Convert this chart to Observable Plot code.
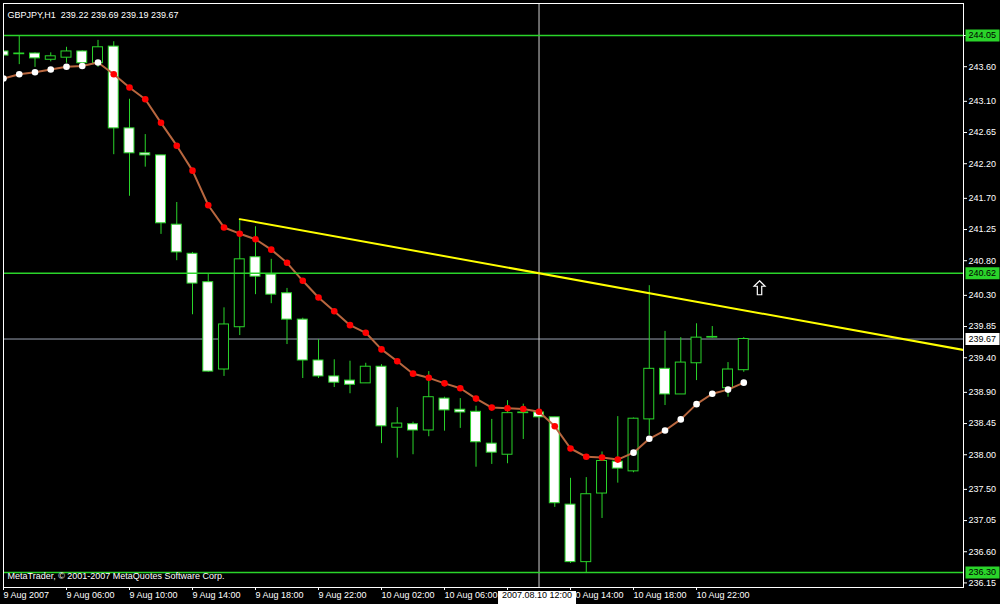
<!DOCTYPE html>
<html><head><meta charset="utf-8">
<script src="https://cdn.jsdelivr.net/npm/d3@7"></script>
<script src="https://cdn.jsdelivr.net/npm/@observablehq/plot@0.6"></script>
<style>html,body{margin:0;padding:0;background:#000;overflow:hidden}</style>
</head><body><div id="chart"></div>
<script>
// ---- data (GBPJPY, H1, 9-10 Aug 2007) ----
const symbolName = "GBPJPY,H1";
const opens  = [243.82,243.78,243.79,243.70,243.73,243.82,243.65,243.89,242.71,242.35,
                242.32,241.32,240.90,240.49,239.23,239.84,240.85,240.60,240.33,239.95,
                239.36,239.13,239.07,239.03,239.27,238.39,238.44,238.35,238.81,238.65,
                238.62,238.16,238.00,238.60,238.61,238.54,237.28,236.45,237.44,237.90,
                237.76,238.51,239.24,238.87,239.32,239.69,238.96,239.22];
const highs  = [243.82,244.05,243.80,243.80,243.88,243.83,243.98,243.96,243.13,242.62,
                242.32,241.64,240.92,240.60,240.12,241.40,241.29,240.82,240.40,239.97,
                239.66,239.37,239.35,239.32,239.30,238.68,238.47,239.20,238.83,238.81,
                238.70,238.51,238.78,238.73,238.64,238.54,237.66,237.67,238.04,238.55,
                238.53,240.44,239.78,239.69,239.89,239.85,239.33,239.69];
const lows   = [243.62,243.63,243.59,243.67,243.65,243.64,243.59,242.33,241.73,242.15,
                241.18,240.80,240.02,239.19,239.13,239.72,240.31,240.18,239.59,239.10,
                239.10,238.97,238.88,239.03,238.16,237.95,238.00,238.26,238.34,238.38,
                237.82,237.86,237.87,238.22,238.52,237.24,236.43,236.30,237.08,237.59,
                237.74,238.28,238.71,238.87,239.07,239.68,238.83,239.19];
const closes = [243.76,243.79,243.72,243.75,243.82,243.65,243.88,242.71,242.35,242.32,
                241.34,240.92,240.47,239.20,239.88,240.82,240.57,240.31,239.95,239.36,
                239.13,239.04,239.01,239.27,238.41,238.45,238.35,238.83,238.64,238.61,
                238.18,238.03,238.60,238.61,238.54,237.30,236.45,237.43,237.91,237.80,
                238.52,239.24,238.87,239.33,239.69,239.70,239.23,239.67];
const maValues = [243.43,243.49,243.52,243.56,243.60,243.61,243.66,243.49,243.30,243.13,
                  242.79,242.46,242.10,241.60,241.28,241.19,241.11,240.96,240.77,240.51,
                  240.27,240.07,239.87,239.76,239.52,239.35,239.17,239.11,239.03,238.96,
                  238.81,238.68,238.67,238.66,238.62,238.41,238.09,237.97,237.96,237.93,
                  238.03,238.23,238.35,238.51,238.73,238.88,238.94,239.04];
const timeTickIdx = [0,4,8,12,16,20,24,28,32,36,40,44];
// the 10 Aug 10:00 label is hidden under the vertical line's time label in the original
const timeTickLabels = ["9 Aug 2007","9 Aug 06:00","9 Aug 10:00","9 Aug 14:00","9 Aug 18:00",
  "9 Aug 22:00","10 Aug 02:00","10 Aug 06:00","","10 Aug 14:00","10 Aug 18:00","10 Aug 22:00"];
const priceTicks = [244.05,243.60,243.10,242.65,242.20,241.70,241.25,240.80,240.30,239.85,
                    239.40,238.90,238.45,238.00,237.50,237.05,236.60,236.15];
const hLines = [244.05, 240.62, 236.30];
const bidPrice = 239.67;
const crossIdx = 34;
const crossLabel = "2007.08.10 12:00";
const trendIdx = [15, 61];
const trendPrice = [241.40, 239.51];
const arrowIdx = [48];
const arrowPrice = [240.41];
const copyright = "MetaTrader, \u00a9 2001-2007 MetaQuotes Software Corp.";

// ---- derived tables ----
const candles = opens.map((o, i) => ({i, o, h: highs[i], l: lows[i], c: closes[i], bull: closes[i] >= o}));
const maPts = maValues.map((v, i) => ({i, v, up: i === 0 || v >= maValues[i - 1]}));
const trend = trendIdx.map((i, k) => ({i, p: trendPrice[k]}));
const arrows = arrowIdx.map((i, k) => ({i, p: arrowPrice[k]}));
const last = candles[candles.length - 1];
const header = `${symbolName}\u00a0\u00a0${last.o.toFixed(2)} ${last.h.toFixed(2)} ${last.l.toFixed(2)} ${last.c.toFixed(2)}`;

const GREEN = "#2ad42a";
const FONT = "'Liberation Sans', Arial, sans-serif";

const boxSym = (w, h) => ({draw(ctx) {
  ctx.moveTo(-w / 2, -h / 2); ctx.lineTo(w / 2, -h / 2); ctx.lineTo(w / 2, h / 2); ctx.lineTo(-w / 2, h / 2); ctx.closePath();
}});
const arrowSym = {draw(ctx) {
  ctx.moveTo(0, -7); ctx.lineTo(5.5, -1.5); ctx.lineTo(2.2, -1.5); ctx.lineTo(2.2, 7);
  ctx.lineTo(-2.2, 7); ctx.lineTo(-2.2, -1.5); ctx.lineTo(-5.5, -1.5); ctx.closePath();
}};

const chart = Plot.plot({
  width: 1000, height: 604,
  marginLeft: 3, marginRight: 37, marginTop: 3, marginBottom: 17,
  style: {background: "#000", color: "#fff", fontFamily: FONT, fontSize: "9px"},
  x: {type: "linear", domain: [0, 60.95]},
  y: {domain: [236.084, 244.512]},
  marks: [
    Plot.ruleY([bidPrice], {stroke: "#9aa3b3", strokeWidth: 1}),
    Plot.ruleX([crossIdx], {stroke: "#d0d0d0", strokeWidth: 1}),
    Plot.ruleX(candles, {x: "i", y1: "l", y2: "h", stroke: GREEN, strokeWidth: 1, clip: true}),
    Plot.rect(candles.filter(d => !d.bull), {x1: d => d.i - 0.5, x2: d => d.i + 0.5, y1: "o", y2: "c",
      insetLeft: 2.9, insetRight: 2.9, fill: "#fff", stroke: GREEN, strokeWidth: 1, clip: true}),
    Plot.rect(candles.filter(d => d.bull), {x1: d => d.i - 0.5, x2: d => d.i + 0.5, y1: "o", y2: "c",
      insetLeft: 2.9, insetRight: 2.9, fill: "#000", stroke: GREEN, strokeWidth: 1, clip: true}),
    Plot.line(maPts, {x: "i", y: "v", stroke: "#b8673f", strokeWidth: 2, clip: true}),
    Plot.dot(maPts.filter(d => !d.up), {x: "i", y: "v", r: 3.3, fill: "#ff0000", clip: true}),
    Plot.dot(maPts.filter(d => d.up), {x: "i", y: "v", r: 3.3, fill: "#ffffff", clip: true}),
    Plot.ruleY(hLines, {stroke: GREEN, strokeWidth: 1.6}),
    Plot.line(trend, {x: "i", y: "p", stroke: "#ffff00", strokeWidth: 2, clip: true}),
    Plot.dot(arrows, {x: "i", y: "p", symbol: arrowSym, fill: "#000", stroke: "#fff", strokeWidth: 1.2}),
    Plot.frame({stroke: "#fff", strokeWidth: 1}),
    Plot.axisX({ticks: timeTickIdx, tickFormat: d => timeTickLabels[timeTickIdx.indexOf(d)],
      tickSize: 3, tickPadding: 1, textAnchor: "start", fontSize: 9, label: null}),
    Plot.axisY({anchor: "right", ticks: priceTicks, tickFormat: d => d.toFixed(2),
      tickSize: 3, tickPadding: 2, fontSize: 9, label: null}),
    Plot.dot(hLines, {y: d => d, frameAnchor: "right", dx: 19, symbol: boxSym(34, 12), fill: GREEN}),
    Plot.text(hLines, {y: d => d, text: d => d.toFixed(2), frameAnchor: "right", dx: 5,
      textAnchor: "start", fill: "#000", fontSize: 9}),
    Plot.dot([bidPrice], {y: d => d, frameAnchor: "right", dx: 19, symbol: boxSym(34, 12), fill: "#fff"}),
    Plot.text([bidPrice], {y: d => d, text: d => d.toFixed(2), frameAnchor: "right", dx: 5,
      textAnchor: "start", fill: "#000", fontSize: 9}),
    Plot.dot([crossIdx], {x: d => d, frameAnchor: "bottom", dx: -2, dy: 10, symbol: boxSym(78, 13), fill: "#fff"}),
    Plot.text([crossLabel], {x: () => crossIdx, text: d => d, frameAnchor: "bottom", dx: -2, dy: 10,
      fill: "#000", fontSize: 9}),
    Plot.text([header], {text: d => d, frameAnchor: "top-left", dx: 4, dy: 8, textAnchor: "start",
      fill: "#fff", fontSize: 9}),
    Plot.text([copyright], {text: d => d, frameAnchor: "bottom-left", dx: 4, dy: -9, textAnchor: "start",
      fill: "#fff", fontSize: 9})
  ]
});
document.getElementById("chart").appendChild(chart);
</script>
</body></html>
